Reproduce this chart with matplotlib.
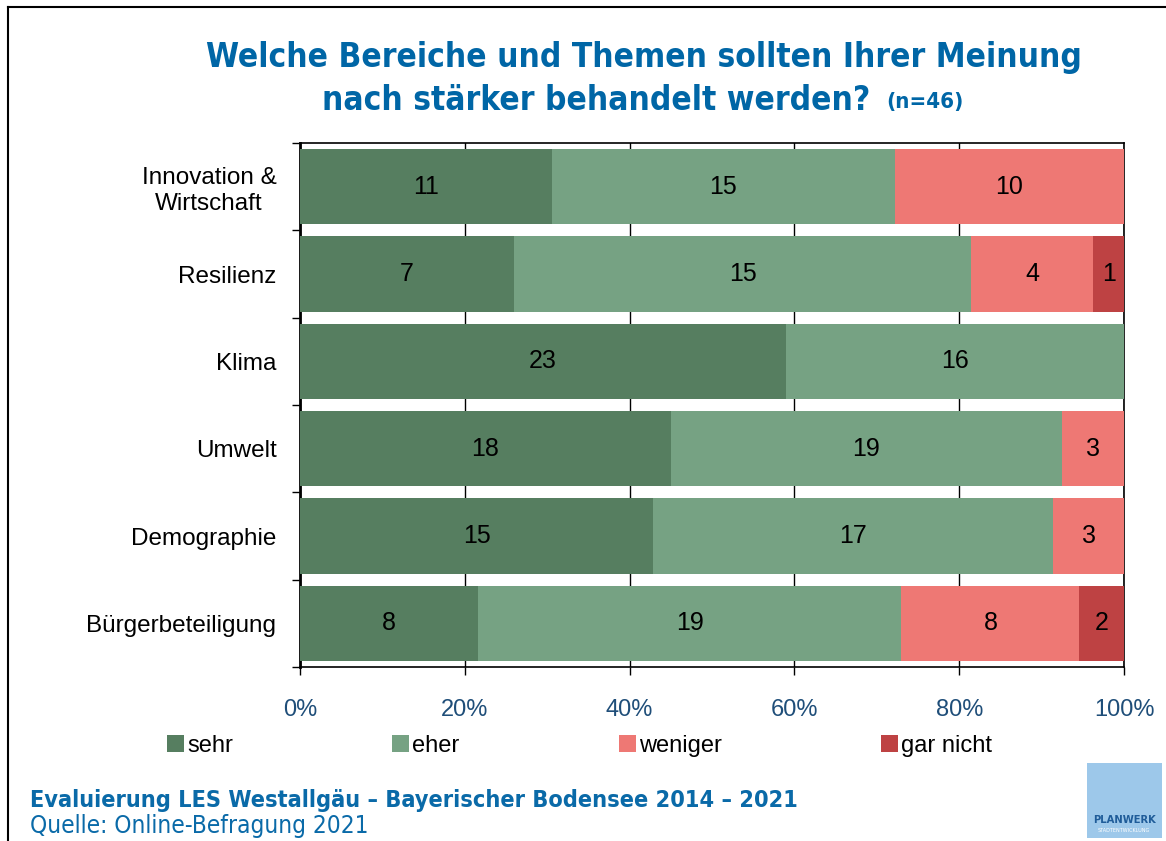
import matplotlib
matplotlib.use("Agg")
import matplotlib.pyplot as plt
from matplotlib.patches import Patch, Rectangle
import numpy as np

categories = ["Innovation &\nWirtschaft", "Resilienz", "Klima", "Umwelt", "Demographie", "Bürgerbeteiligung"]
series_names = ["sehr", "eher", "weniger", "gar nicht"]
sehr = [11, 7, 23, 18, 15, 8]
eher = [15, 15, 16, 19, 17, 19]
weniger = [10, 4, 0, 3, 3, 8]
gar_nicht = [0, 1, 0, 0, 0, 2]
xtick_labels = ["0%", "20%", "40%", "60%", "80%", "100%"]

colors = ["#567E60", "#76A283", "#EE7874", "#BE4243"]

plt.rcParams['font.family'] = ['Liberation Sans', 'DejaVu Sans']

fig = plt.figure(figsize=(11.66, 8.41), dpi=100)
ax = fig.add_axes([300/1166, 1-667/841, 824/1166, 524/841])

data = np.array([sehr, eher, weniger, gar_nicht], dtype=float)
totals = data.sum(axis=0)
pct = data / totals * 100
y = np.arange(len(categories))
left = np.zeros(len(categories))
for i, name in enumerate(series_names):
    ax.barh(y, pct[i], left=left, height=0.86, color=colors[i], label=name, zorder=3)
    for j in range(len(categories)):
        if data[i, j] > 0:
            ax.text(left[j] + pct[i, j]/2, y[j], f"{int(data[i, j])}", ha='center', va='center',
                    fontsize=18, color='black', zorder=4)
    left += pct[i]

ax.set_xlim(0, 100)
ax.set_ylim(len(categories)-0.5, -0.5)
ax.set_xticks(np.arange(0, 101, 20))
ax.set_xticklabels(xtick_labels, fontsize=17, color="#1F4E79")
ax.set_yticks(y)
ax.set_yticklabels(categories, fontsize=17.5, color="black")
ax.set_yticks(np.arange(-0.5, len(categories), 1), minor=True)
ax.tick_params(axis='y', which='major', length=0, pad=17)
ax.tick_params(axis='y', which='minor', length=6, width=1, direction='out')
ax.tick_params(axis='x', which='major', length=6, width=1, direction='out', pad=17)
for lbl in ax.get_yticklabels():
    lbl.set_multialignment('center')
ax.grid(axis='x', color='black', linewidth=1, zorder=1)
for s in ax.spines.values():
    s.set_color('black')
    s.set_linewidth(1.2)
ax.spines['left'].set_linewidth(2)

# Title
title_kw = dict(va='center', color="#0066A6", fontweight='bold', family=['DejaVu Sans'],
                fontstretch='condensed')
fig.text(644/1166, 1-58/841, "Welche Bereiche und Themen sollten Ihrer Meinung", fontsize=24,
         ha='center', **title_kw)
fig.text(322/1166, 1-100/841, "nach stärker behandelt werden?", fontsize=24, ha='left', **title_kw)
fig.text(886/1166, 1-102/841, "(n=46)", fontsize=16, ha='left', **title_kw)

# Legend
handles = [Patch(facecolor=c, edgecolor='none') for c in colors]
fig.legend(handles, series_names, loc='center left', bbox_to_anchor=(167/1166, 1-746/841), ncol=4,
           frameon=False, fontsize=17, handlelength=0.7, handleheight=0.75, handletextpad=0.15,
           columnspacing=6.75, borderpad=0, borderaxespad=0)

# Footer
fig.text(30/1166, 1-800/841, "Evaluierung LES Westallgäu – Bayerischer Bodensee 2014 – 2021", fontsize=16.8,
         ha='left', va='center', color="#0A6AA8", fontweight='bold', family=['DejaVu Sans'],
         fontstretch='condensed')
fig.text(30/1166, 1-826/841, "Quelle: Online-Befragung 2021", fontsize=17.5,
         ha='left', va='center', color="#0A6AA8", family=['DejaVu Sans'], fontstretch='condensed')

# Logo
fig.patches.append(Rectangle((1087/1166, 1-838/841), 75/1166, 75/841, transform=fig.transFigure,
                             facecolor="#9DC8EA", edgecolor='none'))
fig.text(1124/1166, 1-820/841, "PLANWERK", fontsize=8, ha='center', va='center', color="#1F5C99",
         fontweight='bold', family=['DejaVu Sans'], fontstretch='condensed')
fig.text(1124/1166, 1-831/841, "STADTENTWICKLUNG", fontsize=3.5, ha='center', va='center', color="white",
         family=['DejaVu Sans'])

# Frame lines (top & left)
fig.add_artist(plt.Line2D([8/1166, 1], [1-7/841, 1-7/841], transform=fig.transFigure, color='black', linewidth=1.5))
fig.add_artist(plt.Line2D([8/1166, 8/1166], [0, 1-7/841], transform=fig.transFigure, color='black', linewidth=1.5))

fig.savefig("out.png", dpi=100, facecolor='white')
